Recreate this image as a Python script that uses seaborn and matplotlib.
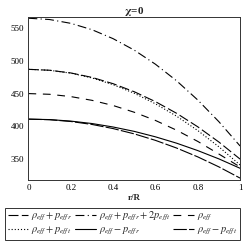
import matplotlib
matplotlib.use('Agg')
import matplotlib.pyplot as plt
import seaborn as sns
import pandas as pd

r = [0, 0.1, 0.2, 0.3, 0.4, 0.5, 0.6, 0.7, 0.8, 0.9, 1.0]

rho_pr = [487, 485.6, 481.5, 474.7, 465.1, 452.8, 437.7, 419.9, 399.3, 376.0, 350]
rho_pr_2pt = [565, 563.0, 557.2, 547.5, 533.8, 516.3, 494.8, 469.5, 440.2, 407.0, 370]
rho = [450, 448.9, 445.4, 439.7, 431.8, 421.5, 409.0, 394.1, 377.0, 357.7, 338]
rho_pt = [487, 485.5, 481.2, 473.9, 463.6, 450.5, 434.4, 415.5, 393.6, 368.7, 341]
rho_mpr = [411, 410.3, 408.0, 404.3, 399.0, 392.3, 384.0, 374.3, 363.0, 350.3, 336]
rho_mpt = [411, 410.1, 407.4, 402.9, 396.6, 388.5, 378.6, 366.9, 353.4, 338.1, 321]

labels = [r'$\rho_{eff}+p_{effr}$', r'$\rho_{eff}+p_{effr}+2p_{efft}$', r'$\rho_{eff}$',
          r'$\rho_{eff}+p_{efft}$', r'$\rho_{eff}-p_{effr}$', r'$\rho_{eff}-p_{efft}$']

sns.set_style('white')
plt.rcParams['font.family'] = ['Liberation Serif', 'DejaVu Serif']
plt.rcParams['mathtext.fontset'] = 'stix'

fig = plt.figure(figsize=(2.45, 2.45), dpi=100)
ax = fig.add_axes([0.116, 0.265, 0.864, 0.666])

series = [rho_pr, rho_pr_2pt, rho, rho_pt, rho_mpr, rho_mpt]
styles = [(0, (9, 3)), (0, (8, 3, 1, 3)), (0, (7, 6)), (0, (1, 1.8)), '-', (0, (12, 2))]
handles = []
for ys, ls in zip(series, styles):
    df = pd.DataFrame({'r': r, 'v': ys})
    sns.lineplot(data=df, x='r', y='v', ax=ax, color='black', linewidth=0.8, linestyle=ls)
    handles.append(ax.lines[-1])
if ax.get_legend() is not None:
    ax.get_legend().remove()

ax.set_xlim(0, 1)
ax.set_ylim(318, 567)
ax.set_xticks([0, 0.2, 0.4, 0.6, 0.8, 1])
ax.set_xticklabels(['0', '0.2', '0.4', '0.6', '0.8', '1'])
ax.set_yticks([350, 400, 450, 500, 550])
ax.tick_params(labelsize=6.5, length=2, width=0.5, direction='in', pad=3, colors='black')
for s in ax.spines.values():
    s.set_linewidth(0.7)
    s.set_color('#333333')
ax.set_xlabel('r/R', fontsize=6.5, fontweight='bold', labelpad=1)
ax.set_ylabel('')
ax.set_title(r'$\mathbf{\chi}$=0', fontsize=8, fontweight='bold', pad=2)

order = [0, 3, 1, 4, 2, 5]
leg = fig.legend([handles[i] for i in order], [labels[i] for i in order],
                 loc='lower left', bbox_to_anchor=(0.02, 0.02, 0.96, 0.155), mode='expand',
                 ncol=3, fontsize=7.5, frameon=True, fancybox=False, handlelength=2.0,
                 handletextpad=0.3, columnspacing=0.2, borderpad=0.25, labelspacing=0.2,
                 borderaxespad=0)
leg.get_frame().set_edgecolor('black')
leg.get_frame().set_linewidth(0.7)

fig.savefig('out.png', dpi=100)
